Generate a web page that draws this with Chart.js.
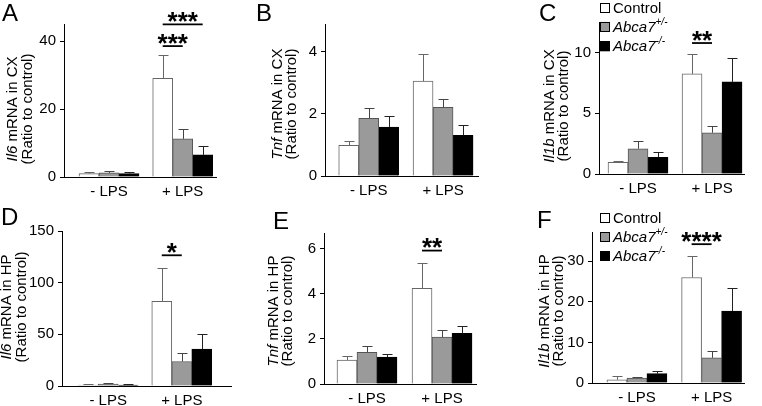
<!DOCTYPE html>
<html>
<head>
<meta charset="utf-8">
<script src="https://cdn.jsdelivr.net/npm/chart.js@4.4.1/dist/chart.umd.min.js"></script>
<style>
  html, body { margin: 0; padding: 0; background: #fff; }
  #wrap { position: relative; width: 762px; height: 406px; }
  #wrap canvas { position: absolute; left: 0; top: 0; }
</style>
</head>
<body>
<div id="wrap"></div>
<script>
'use strict';

// ---- data (mean, SEM) ----
const groups = ['- LPS', '+ LPS'];

// A  Il6, cortex
const il6CxCtrl = [1.0, 29.0], il6CxCtrlSem = [0.5, 7.0];
const il6CxHet  = [1.2, 11.2], il6CxHetSem  = [0.6, 2.9];
const il6CxKo   = [1.0, 6.5],  il6CxKoSem   = [0.5, 2.7];

// B  Tnf, cortex
const tnfCxCtrl = [0.99, 3.06], tnfCxCtrlSem = [0.13, 0.88];
const tnfCxHet  = [1.86, 2.21], tnfCxHetSem  = [0.34, 0.26];
const tnfCxKo   = [1.58, 1.31], tnfCxKoSem   = [0.36, 0.33];

// C  Il1b, cortex
const il1bCxCtrl = [0.96, 8.23], il1bCxCtrlSem = [0.14, 1.61];
const il1bCxHet  = [2.08, 3.39], il1bCxHetSem  = [0.62, 0.52];
const il1bCxKo   = [1.37, 7.57], il1bCxKoSem   = [0.47, 1.97];

// D  Il6, hippocampus
const il6HpCtrl = [1.0, 82.0], il6HpCtrlSem = [0.7, 32.0];
const il6HpHet  = [1.8, 23.7], il6HpHetSem  = [1.0, 7.8];
const il6HpKo   = [1.0, 35.7], il6HpKoSem   = [0.5, 15.0];

// E  Tnf, hippocampus
const tnfHpCtrl = [1.06, 4.25], tnfHpCtrlSem = [0.18, 1.11];
const tnfHpHet  = [1.40, 2.08], tnfHpHetSem  = [0.27, 0.33];
const tnfHpKo   = [1.20, 2.25], tnfHpKoSem   = [0.14, 0.32];

// F  Il1b, hippocampus
const il1bHpCtrl = [0.8, 26.0], il1bHpCtrlSem = [1.0, 5.2];
const il1bHpHet  = [1.2, 6.2],  il1bHpHetSem  = [0.4, 1.8];
const il1bHpKo   = [2.3, 17.7], il1bHpKoSem   = [0.7, 5.7];

// y axis ranges / steps
const yMaxes = [45, 4.9, 12.5, 150, 6.7, 37.2];
const ySteps = [20, 2, 5, 50, 2, 10];

// significance bars in +LPS group: [fromSeries, toSeries, level, stars]
const il6CxSig  = [[0, 2, 44.9, '***'], [0, 1, 38.5, '***']];
const il1bCxSig = [[0, 1, 10.77, '**']];
const il6HpSig  = [[0, 1, 126.5, '*']];
const tnfHpSig  = [[0, 1, 5.92, '**']];
const il1bHpSig = [[0, 1, 34.2, '****']];

const FONT = '"Liberation Sans", Arial, Helvetica, sans-serif';
const FILLS   = ['#ffffff', '#9a9a9a', '#000000'];
const BORDERS = ['#666666', '#555555', '#000000'];
const ERRS    = ['#666666', '#444444', '#222222'];

const panels = [
  { letter: 'A', lx: 2,   ly: 21,  gene: 'Il6',  tissue: 'CX', t1: 13,  t2: 28,  ty: 109,
    box: { l: 64,  r: 216, t: 24,  b: 177 }, xMin: -0.611, xMax: 1.452,
    series: [[il6CxCtrl, il6CxCtrlSem], [il6CxHet, il6CxHetSem], [il6CxKo, il6CxKoSem]], sig: il6CxSig },
  { letter: 'B', lx: 256, ly: 21,  gene: 'Tnf',  tissue: 'CX', t1: 278, t2: 292, ty: 104,
    box: { l: 325, r: 478, t: 24,  b: 176 }, xMin: -0.588, xMax: 1.47,
    series: [[tnfCxCtrl, tnfCxCtrlSem], [tnfCxHet, tnfCxHetSem], [tnfCxKo, tnfCxKoSem]], sig: [] },
  { letter: 'C', lx: 539, ly: 21,  gene: 'Il1b', tissue: 'CX', t1: 550, t2: 564, ty: 106,
    box: { l: 599, r: 744, t: 22,  b: 174 }, xMin: -0.527, xMax: 1.432,
    series: [[il1bCxCtrl, il1bCxCtrlSem], [il1bCxHet, il1bCxHetSem], [il1bCxKo, il1bCxKoSem]], sig: il1bCxSig,
    legend: { x: 600, y: 7.5, gap: 19.4 } },
  { letter: 'D', lx: 1,   ly: 225, gene: 'Il6',  tissue: 'HP', t1: 7,   t2: 22,  ty: 307,
    box: { l: 62,  r: 231, t: 231, b: 386 }, xMin: -0.628, xMax: 1.669,
    series: [[il6HpCtrl, il6HpCtrlSem], [il6HpHet, il6HpHetSem], [il6HpKo, il6HpKoSem]], sig: il6HpSig },
  { letter: 'E', lx: 273, ly: 229, gene: 'Tnf',  tissue: 'HP', t1: 274, t2: 288, ty: 311,
    box: { l: 324, r: 476, t: 233, b: 384 }, xMin: -0.573, xMax: 1.453,
    series: [[tnfHpCtrl, tnfHpCtrlSem], [tnfHpHet, tnfHpHetSem], [tnfHpKo, tnfHpKoSem]], sig: tnfHpSig },
  { letter: 'F', lx: 537, ly: 228, gene: 'Il1b', tissue: 'HP', t1: 545, t2: 559, ty: 311,
    box: { l: 592, r: 744, t: 232, b: 383 }, xMin: -0.602, xMax: 1.434,
    series: [[il1bHpCtrl, il1bHpCtrlSem], [il1bHpHet, il1bHpHetSem], [il1bHpKo, il1bHpKoSem]], sig: il1bHpSig,
    legend: { x: 600, y: 218, gap: 19 } },
];

// draw a run of text pieces centred on (0,0) in the current transform
function drawRuns(ctx, runs, align) {
  const fontOf = r => (r.italic ? 'italic ' : '') + (r.sup ? '10px ' : '15px ') + FONT;
  let total = 0;
  runs.forEach(r => { ctx.font = fontOf(r); r.w = ctx.measureText(r.t).width; total += r.w; });
  let x = align === 'left' ? 0 : -total / 2;
  runs.forEach(r => {
    ctx.font = fontOf(r);
    ctx.fillText(r.t, x, r.sup ? -6 : 0);
    x += r.w;
  });
}

const errorBars = {
  id: 'errorBars',
  afterDatasetsDraw(chart) {
    const ctx = chart.ctx, ys = chart.scales.y;
    chart.data.datasets.forEach((ds, i) => {
      chart.getDatasetMeta(i).data.forEach((bar, j) => {
        const top = Math.round(ys.getPixelForValue(ds.data[j].y + ds.sem[j])) + 0.5;
        const x = Math.round(bar.x) + 0.5;
        ctx.save();
        ctx.strokeStyle = ds.errColor;
        ctx.lineWidth = 1;
        ctx.beginPath();
        ctx.moveTo(x, bar.y); ctx.lineTo(x, top);
        ctx.moveTo(x - 5, top); ctx.lineTo(x + 5, top);
        ctx.stroke();
        ctx.restore();
      });
    });
  }
};

const sigBars = {
  id: 'sigBars',
  afterDraw(chart, args, opts) {
    const ctx = chart.ctx, ys = chart.scales.y;
    (opts.items || []).forEach(([a, b, level, stars]) => {
      const x1 = chart.getDatasetMeta(a).data[1].x;
      const x2 = chart.getDatasetMeta(b).data[1].x;
      const y = ys.getPixelForValue(level);
      ctx.save();
      ctx.strokeStyle = '#000';
      ctx.lineWidth = 1.8;
      ctx.beginPath(); ctx.moveTo(x1, y); ctx.lineTo(x2, y); ctx.stroke();
      ctx.font = 'bold 26px ' + FONT;
      ctx.fillStyle = '#000';
      ctx.textAlign = 'center';
      ctx.textBaseline = 'alphabetic';
      const m = ctx.measureText(stars);
      const base = (y - 7.5) + (m.actualBoundingBoxAscent - m.actualBoundingBoxDescent) / 2;
      ctx.fillText(stars, (x1 + x2) / 2, base);
      ctx.restore();
    });
  }
};

const panelText = {
  id: 'panelText',
  afterDraw(chart, args, p) {
    const ctx = chart.ctx;
    ctx.save();
    ctx.fillStyle = '#000';
    ctx.textBaseline = 'alphabetic';
    ctx.textAlign = 'left';
    ctx.font = '24px ' + FONT;
    ctx.fillText(p.letter, p.lx, p.ly);

    ctx.textBaseline = 'middle';
    ctx.save();
    ctx.translate(p.t1, p.ty); ctx.rotate(-Math.PI / 2);
    drawRuns(ctx, [{ t: p.gene, italic: true }, { t: ' mRNA in ' + p.tissue }]);
    ctx.restore();
    ctx.save();
    ctx.translate(p.t2, p.ty); ctx.rotate(-Math.PI / 2);
    drawRuns(ctx, [{ t: '(Ratio to control)' }]);
    ctx.restore();

    if (p.legend) {
      const rows = [
        [{ t: 'Control' }],
        [{ t: 'Abca7', italic: true }, { t: '+/-', italic: true, sup: true }],
        [{ t: 'Abca7', italic: true }, { t: '-/-', italic: true, sup: true }],
      ];
      rows.forEach((runs, i) => {
        const cy = p.legend.y + i * p.legend.gap;
        ctx.fillStyle = FILLS[i];
        ctx.fillRect(p.legend.x, cy - 5, 10, 10);
        ctx.strokeStyle = '#000';
        ctx.lineWidth = 1;
        ctx.strokeRect(p.legend.x + 0.5, Math.round(cy - 5) + 0.5, 9, 9);
        ctx.fillStyle = '#000';
        ctx.save();
        ctx.translate(p.legend.x + 13, cy + 1);
        drawRuns(ctx, runs, 'left');
        ctx.restore();
      });
    }
    ctx.restore();
  }
};

const wrap = document.getElementById('wrap');

panels.forEach((p, k) => {
  const cv = document.createElement('canvas');
  cv.width = 762; cv.height = 406;
  wrap.appendChild(cv);

  const datasets = p.series.map(([vals, sem], i) => ({
    data: vals.map((v, g) => ({ x: g, y: v })),
    sem: sem,
    backgroundColor: FILLS[i],
    borderColor: BORDERS[i],
    errColor: ERRS[i],
    borderWidth: 1,
    barThickness: 20,
  }));

  new Chart(cv, {
    type: 'bar',
    data: { datasets },
    options: {
      responsive: false,
      animation: false,
      events: [],
      layout: {
        padding: { left: p.box.l - 40, right: 762 - p.box.r, top: p.box.t, bottom: 406 - p.box.b - 30 }
      },
      plugins: {
        legend: { display: false },
        tooltip: { enabled: false },
        sigBars: { items: p.sig },
        panelText: p,
      },
      scales: {
        x: {
          type: 'linear', offset: false, min: p.xMin, max: p.xMax,
          afterBuildTicks: s => { s.ticks = [{ value: 0 }, { value: 1 }]; },
          afterFit: s => { s.height = 30; },
          grid: { display: false, drawTicks: false },
          border: { display: true, color: '#000', width: 1 },
          ticks: { color: '#000', padding: 6, font: { family: FONT, size: 15 },
                   callback: v => groups[v] }
        },
        y: {
          min: 0, max: yMaxes[k],
          afterFit: s => { s.width = 40; },
          grid: { drawOnChartArea: false, drawTicks: true, tickLength: 4, color: '#000' },
          border: { display: true, color: '#000', width: 1 },
          ticks: { stepSize: ySteps[k], includeBounds: false, color: '#000', padding: 4,
                   font: { family: FONT, size: 15 } }
        }
      }
    },
    plugins: [errorBars, sigBars, panelText]
  });
});
</script>
</body>
</html>
